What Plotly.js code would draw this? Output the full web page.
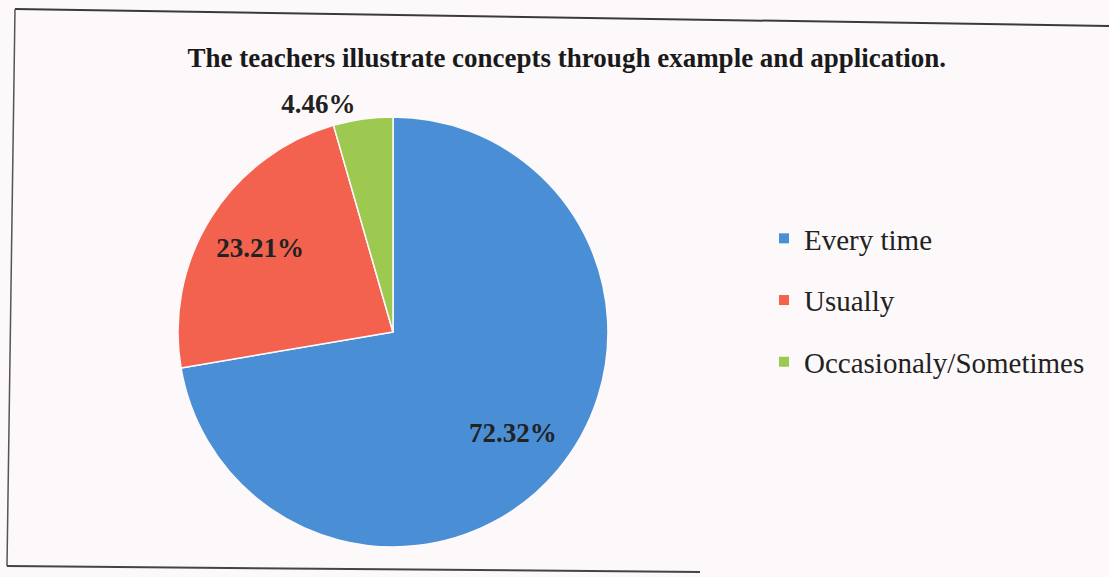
<!DOCTYPE html>
<html>
<head>
<meta charset="utf-8">
<script src="https://cdn.plot.ly/plotly-3.0.1.min.js"></script>
<style>html,body{margin:0;padding:0;background:#fdf9fb;}#chart{width:1109px;height:577px;}</style>
</head>
<body>
<div id="chart"></div>
<script>
const categories = ["Every time", "Usually", "Occasionaly/Sometimes"];
const values = [72.32, 23.21, 4.46];
const sliceLabels = ["72.32%", "23.21%", "4.46%"];
const colors = ["#4a8fd6", "#f2624e", "#9dc950"];
const titleText = "The teachers illustrate concepts through example and application.";

const serif = "Liberation Serif, Times New Roman, serif";
const bg = "#fdf9fb";
const pieDomain = { x: [0.1605, 0.5482], y: [0.0503, 0.799] };
const labelFont = { family: serif, size: 27, color: "#222222", weight: "bold" };

// filled pie (slices)
const pie = {
  type: "pie",
  labels: categories,
  values: values,
  textinfo: "none",
  sort: false,
  direction: "clockwise",
  rotation: 0,
  marker: { colors: colors, line: { color: bg, width: 1.5 } },
  domain: pieDomain,
  showlegend: false,
  hoverinfo: "label+percent"
};

// transparent ring carrying the percentage labels further out
const labelRing = {
  type: "pie",
  labels: categories,
  values: values,
  text: sliceLabels,
  textinfo: "text",
  textposition: ["inside", "inside", "outside"],
  insidetextorientation: "horizontal",
  hole: 0.46,
  sort: false,
  direction: "clockwise",
  rotation: 0,
  marker: { colors: categories.map(() => "rgba(0,0,0,0)"), line: { width: 0 } },
  textfont: labelFont,
  insidetextfont: labelFont,
  outsidetextfont: labelFont,
  domain: pieDomain,
  showlegend: false,
  hoverinfo: "skip"
};

const legendTraces = categories.map((c, i) => ({
  type: "scatter",
  mode: "markers",
  x: [null], y: [null],
  name: c,
  legendgroup: "g" + i,
  marker: { symbol: "square", size: 10, color: colors[i] },
  showlegend: true,
  hoverinfo: "skip"
}));

const layout = {
  width: 1109, height: 577,
  margin: { l: 0, r: 0, t: 0, b: 0 },
  paper_bgcolor: bg,
  plot_bgcolor: "rgba(0,0,0,0)",
  title: {
    text: "<b>" + titleText + "</b>",
    x: 0.511, xanchor: "center",
    y: 1 - 58 / 577, yanchor: "middle",
    font: { family: serif, size: 27, color: "#1a1a1a" }
  },
  xaxis: { visible: false, range: [0, 1] },
  yaxis: { visible: false, range: [0, 1] },
  showlegend: true,
  legend: {
    x: 764 / 1109, xanchor: "left",
    y: 1 - 213 / 577, yanchor: "top",
    traceorder: "grouped",
    tracegroupgap: 21,
    bgcolor: "rgba(0,0,0,0)",
    font: { family: serif, size: 29, color: "#222222" }
  },
  shapes: [
    { type: "line", xref: "paper", yref: "paper", x0: 15/1109, y0: 1 - 9/577, x1: 1, y1: 1 - 26/577, line: { color: "#3a3a3a", width: 2 } },
    { type: "line", xref: "paper", yref: "paper", x0: 15/1109, y0: 1 - 9/577, x1: 7/1109, y1: 1 - 566/577, line: { color: "#555555", width: 1.5 } },
    { type: "line", xref: "paper", yref: "paper", x0: 7/1109, y0: 1 - 566/577, x1: 700/1109, y1: 1 - 572/577, line: { color: "#444444", width: 2 } }
  ]
};

Plotly.newPlot("chart", [pie, labelRing].concat(legendTraces), layout, { displayModeBar: false, staticPlot: true });
</script>
</body>
</html>
